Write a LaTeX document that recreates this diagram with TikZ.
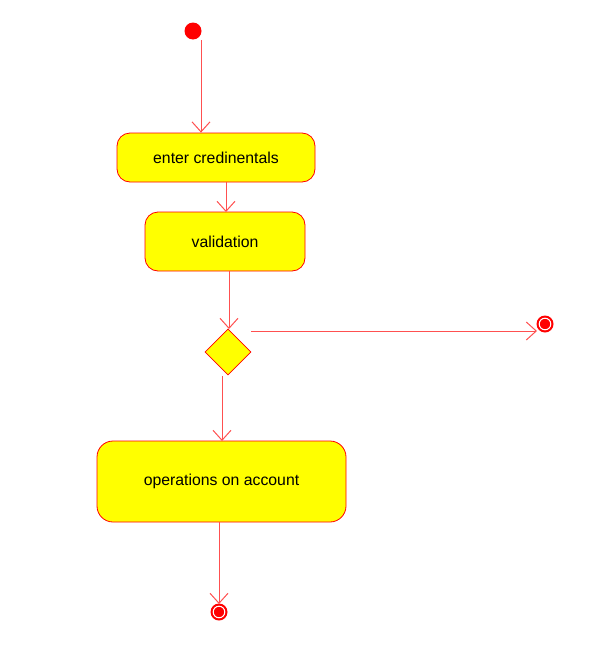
\documentclass[tikz,border=0pt]{standalone}
\usepackage{fontspec}
\setmainfont{Liberation Sans}
\usetikzlibrary{arrows.meta,shapes.geometric}
\definecolor{lnred}{HTML}{FF5050}
\definecolor{actyellow}{HTML}{FFFF00}
\begin{document}
\begin{tikzpicture}[x=1pt,y=-1pt,
  action/.style={draw=red, fill=actyellow, rounded corners=13pt, line width=0.8pt,
    inner sep=0pt, font=\fontsize{15.8}{19}\selectfont},
  flow/.style={draw=lnred, line width=1pt, -{Straight Barb[length=10pt,width=18pt,line width=1pt]}},
  decision/.style={diamond, draw=red, fill=actyellow, line width=0.8pt, inner sep=0pt,
    minimum width=46pt, minimum height=46pt, aspect=1}
]
\useasboundingbox (0,0) rectangle (597,664);

% initial node
\fill[red] (193,31) circle (8.5pt);
\coordinate (s0) at (201,40);

% activities
\node[action, minimum width=198pt, minimum height=49pt] (enter) at (216,157.5) {enter credinentals};
\node[action, minimum width=160pt, minimum height=59pt] (valid) at (225,241.5) {validation};
\node[decision] (dec) at (228,352) {};
\node[action, minimum width=249pt, minimum height=81pt, rounded corners=16pt] (ops) at (221.5,481.5) {operations on account};

% final nodes
\coordinate (fin1) at (545,324);
\coordinate (fin2) at (219,612);
\foreach \f in {fin1,fin2}{
  \fill[red] (\f) circle (8.5pt);
  \draw[white, line width=1pt] (\f) circle (5.8pt);
}

% transitions
\draw[flow] (s0) -- (s0 |- enter.north);
\draw[flow] (226,182) -- (226,212);
\draw[flow] (229,271) -- (229,329);
\draw[flow] (251,331) -- (537,331);
\draw[flow] (222,376) -- (222,441);
\draw[flow] (219,522) -- (219,604);
\end{tikzpicture}
\end{document}
